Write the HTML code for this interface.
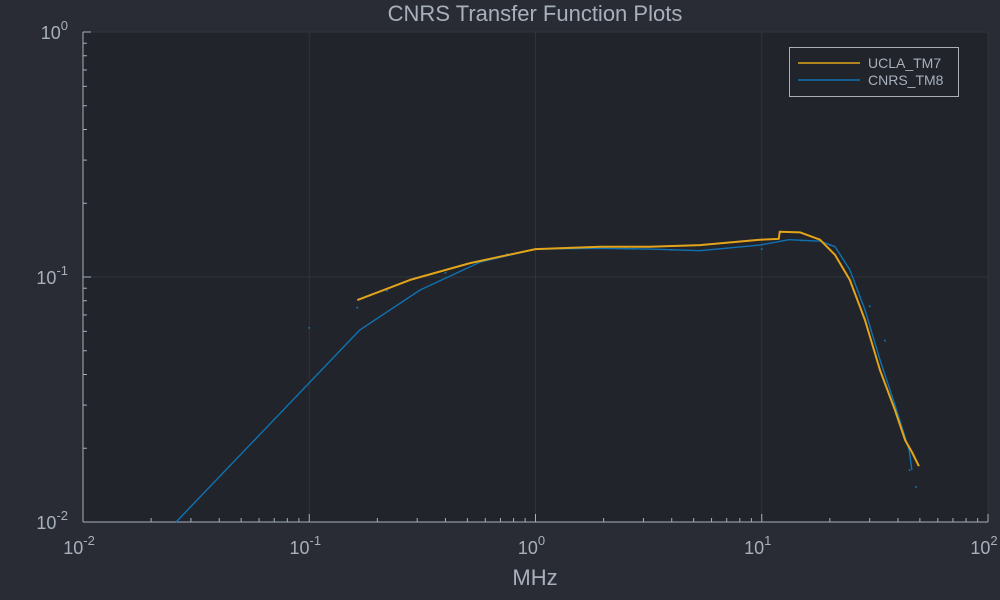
<!DOCTYPE html>
<html><head><meta charset="utf-8"><style>
body{margin:0;background:#292c34;}
svg{display:block;font-family:"Liberation Sans","DejaVu Sans",sans-serif;}
</style></head><body>
<svg id="c" width="1000" height="600">
<rect x="0" y="0" width="1000" height="600" fill="#292c34"/>
<rect x="83" y="32" width="905" height="490" fill="#21242b"/>
<text x="535" y="21" text-anchor="middle" font-size="22" fill="#a8b0bc">CNRS Transfer Function Plots</text>
<text x="535" y="585" text-anchor="middle" font-size="22" fill="#a8b0bc">MHz</text>
<g id="axes"></g>
<g id="series"></g>
<g>
<rect x="789.5" y="47.5" width="169" height="49" fill="#21242b" stroke="#a8b0bc" stroke-width="1"/>
<line x1="798" y1="63" x2="860" y2="63" stroke="#e3a41a" stroke-width="1.5"/>
<text x="868" y="68" font-size="14" fill="#a8b0bc">UCLA_TM7</text>
<line x1="798" y1="80" x2="860" y2="80" stroke="#0f72b2" stroke-width="1.5"/>
<text x="868" y="85" font-size="14" fill="#a8b0bc">CNRS_TM8</text>
</g>
</svg>
<script>
const xTicks=[0.01,0.1,1,10,100];
const xTickExp=["-2","-1","0","1","2"];
const yTicks=[0.01,0.1,1];
const yTickExp=["-2","-1","0"];
const uclaX=[0.163,0.279,0.514,1.0,1.93,3.2,5.33,9.8,11.9,12.0,14.8,18.1,21.1,24.5,28.6,33.3,38.8,43.0,46.1,49.5];
const uclaY=[0.0805,0.0973,0.114,0.130,0.133,0.133,0.135,0.142,0.143,0.153,0.152,0.142,0.123,0.0973,0.0667,0.0417,0.0286,0.0216,0.0193,0.0169];
const cnrsX=[0.0258,0.1675,0.309,0.569,1.0,1.93,3.2,5.33,9.8,13.2,18.1,21.1,24.5,28.6,33.3,38.8,44.8,46.1];
const cnrsY=[0.01,0.0608,0.0885,0.115,0.130,0.131,0.130,0.128,0.135,0.142,0.140,0.133,0.107,0.0733,0.0459,0.030,0.0197,0.0163];
const cnrsDotX=[0.1,0.163,0.22,0.4,0.75,1.5,2.5,4,7,10,15,20,30,35,41,45,48];
const cnrsDotY=[0.062,0.075,0.088,0.104,0.124,0.131,0.131,0.129,0.131,0.13,0.141,0.135,0.076,0.055,0.025,0.0163,0.0139];
const L=83,R=988,T=32,B=522;
function sx(v){return L+(Math.log10(v)+2)/4*(R-L);}
function sy(v){return T+(-Math.log10(v))/2*(B-T);}
const NS="http://www.w3.org/2000/svg";
function mk(t,a,p){const e=document.createElementNS(NS,t);for(const k in a)e.setAttribute(k,a[k]);p.appendChild(e);return e;}
const ax=document.getElementById('axes');
xTicks.forEach((v,i)=>{
 const x=sx(v);
 const g=mk('line',{x1:x,y1:T,x2:x,y2:B,stroke:'#2f333b','stroke-width':1},ax);
 
 
 const t=mk('text',{x:x-4,y:554,'text-anchor':'middle','font-size':18,fill:'#a8b0bc'},ax);
 
 
 t.textContent='10';
 const s=mk('tspan',{dy:-9,'font-size':13},t);s.textContent=xTickExp[i];
 if(i<4)for(let m=2;m<10;m++){const mx=sx(v*m);mk('line',{x1:mx,y1:B,x2:mx,y2:B-4,stroke:'#a8b0bc'},ax);}
 mk('line',{x1:x,y1:B,x2:x,y2:B-8,stroke:'#a8b0bc'},ax);
});
yTicks.forEach((v,i)=>{
 const y=sy(v);
 const g=mk('line',{x1:L,y1:y,x2:R,y2:y,stroke:'#2f333b','stroke-width':1},ax);
 
 
 const t=mk('text',{x:68,y:y+7,'text-anchor':'end','font-size':18,fill:'#a8b0bc'},ax);
 
 
 t.textContent='10';
 const s=mk('tspan',{dy:-9,'font-size':13},t);s.textContent=yTickExp[i];
 if(i<2)for(let m=2;m<10;m++){const my=sy(v*m);mk('line',{x1:L,y1:my,x2:L+4,y2:my,stroke:'#a8b0bc'},ax);}
 mk('line',{x1:L,y1:y,x2:L+8,y2:y,stroke:'#a8b0bc'},ax);
});
const xa=mk('line',{x1:L,y1:B,x2:R,y2:B,stroke:'#a8b0bc'},ax);


const ya=mk('line',{x1:L,y1:T,x2:L,y2:B,stroke:'#a8b0bc'},ax);


const se=document.getElementById('series');
function path(xs,ys){return xs.map((x,i)=>(i?'L':'M')+sx(x).toFixed(1)+','+sy(ys[i]).toFixed(1)).join('');}
const pc=mk('path',{d:path(cnrsX,cnrsY),fill:'none',stroke:'#0f72b2','stroke-width':1.4,'stroke-linejoin':'round'},se);


cnrsDotX.forEach((x,i)=>{const d=mk('circle',{cx:sx(x),cy:sy(cnrsDotY[i]),r:1,fill:'#0f72b2'},se);
 
 });
const pu=mk('path',{d:path(uclaX,uclaY),fill:'none',stroke:'#e3a41a','stroke-width':2,'stroke-linejoin':'round'},se);


</script>
</body></html>
